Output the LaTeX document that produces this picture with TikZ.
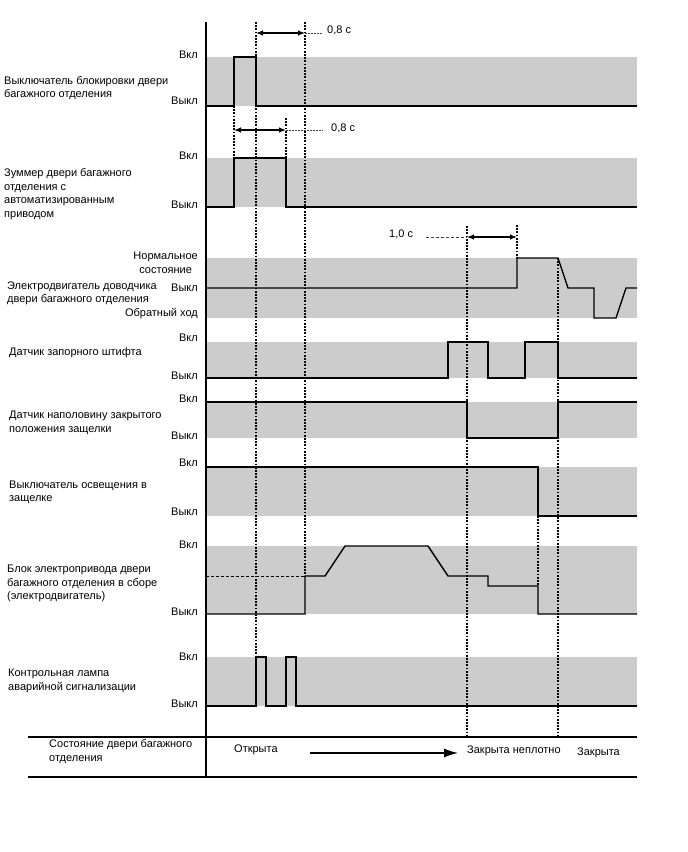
\documentclass[tikz,border=0pt]{standalone}
\usepackage{fontspec}
\setmainfont{Liberation Sans}
\usetikzlibrary{arrows.meta}
\definecolor{bandgray}{HTML}{CCCCCC}
\begin{document}
\begin{tikzpicture}[x=1pt,y=-1pt,
  band/.style={fill=bandgray,draw=none},
  sig/.style={line width=1.4pt,line join=miter},
  guide/.style={line width=1.3pt,dash pattern=on 1.8pt off 1.4pt},
  lead/.style={line width=0.8pt,dash pattern=on 1.5pt off 1.5pt,black!75},
  dimarrow/.style={line width=1.2pt,{Latex[length=7pt,width=5.5pt]}-{Latex[length=7pt,width=5.5pt]}},
  lvl/.style={anchor=east,inner sep=0pt,font=\fontsize{11}{13}\selectfont},
  rowname/.style={anchor=west,inner sep=0pt,align=left,font=\fontsize{11}{13.5}\selectfont},
  txt/.style={anchor=west,inner sep=0pt,font=\fontsize{11}{13}\selectfont},
]
\useasboundingbox (0,0) rectangle (688,852);

% bands
\foreach \a/\b in {57/106,158/207,258/318,342/378,402/438,467/516,546/614,657/706}
  \fill[bandgray] (206,\a) rectangle (637,\b);

% guide lines
\draw[guide] (256,22) -- (256,657);
\draw[guide] (305,22) -- (305,576);
\draw[guide] (234,106) -- (234,158);
\draw[guide] (286,118) -- (286,158);
\draw[guide] (467,226) -- (467,737);
\draw[guide] (517,225) -- (517,258);
\draw[guide] (558,258) -- (558,737);
\draw[guide] (538,516) -- (538,586);

% time dimensions
\coordinate (d1a) at (256,33); \coordinate (d1b) at (305,33);
\coordinate (d2a) at (234,130); \coordinate (d2b) at (286,130);
\coordinate (d3a) at (467,237); \coordinate (d3b) at (517,237);
\node[txt] (t1) at (327,30) {0,8 с};
\node[txt] (t2) at (331,128) {0,8 с};
\node[txt] (t3) at (389,234) {1,0 с};
\draw[dimarrow] (d1a) -- (d1b);
\draw[dimarrow] (d2a) -- (d2b);
\draw[dimarrow] (d3a) -- (d3b);
\draw[lead] (d1b) -- ([xshift=-5pt]t1.west |- d1b);
\draw[lead] (d2b) -- ([xshift=-8pt]t2.west |- d2b);
\draw[lead,dash pattern=on 3pt off 2pt] (426,237) -- (d3a);

% row 7 dashed reference
\draw[line width=0.8pt,dash pattern=on 3pt off 2pt] (206,576) -- (305,576);

% signals
\draw[sig] (206,106) -- (234,106) -- (234,57) -- (256,57) -- (256,106) -- (637,106);
\draw[sig] (206,207) -- (234,207) -- (234,158) -- (286,158) -- (286,207) -- (637,207);
\draw[sig] (206,288) -- (517,288) -- (517,258) -- (558,258) -- (568,288) -- (594,288) -- (594,318) -- (616,318) -- (626,288) -- (637,288);
\draw[sig] (206,378) -- (448,378) -- (448,342) -- (488,342) -- (488,378) -- (525,378) -- (525,342) -- (558,342) -- (558,378) -- (637,378);
\draw[sig] (206,402) -- (467,402) -- (467,438) -- (558,438) -- (558,402) -- (637,402);
\draw[sig] (206,467) -- (538,467) -- (538,516) -- (637,516);
\draw[sig] (206,614) -- (305,614) -- (305,576) -- (325,576) -- (345,546) -- (428,546) -- (448,576) -- (488,576) -- (488,586) -- (538,586) -- (538,614) -- (637,614);
\draw[sig] (206,706) -- (256,706) -- (256,657) -- (266,657) -- (266,706) -- (286,706) -- (286,657) -- (296,657) -- (296,706) -- (637,706);

% axis and status row
\draw[line width=1.8pt] (206,22) -- (206,777);
\draw[line width=1.2pt] (28,737) -- (637,737);
\draw[line width=1.2pt] (28,777) -- (637,777);

% row names
\node[rowname] (n1) at (4,88) {Выключатель блокировки двери\\багажного отделения};
\node[rowname] (n2) at (4,194) {Зуммер двери багажного\\отделения с\\автоматизированным\\приводом};
\node[rowname] (n3) at (7,293.5) {Электродвигатель доводчика\\двери багажного отделения};
\node[rowname] (n4) at (9,353) {Датчик запорного штифта};
\node[rowname] (n5) at (9,423) {Датчик наполовину закрытого\\положения защелки};
\node[rowname] (n6) at (9,492.5) {Выключатель освещения в\\защелке};
\node[rowname] (n7) at (7,583.5) {Блок электропривода двери\\багажного отделения в сборе\\(электродвигатель)};
\node[rowname] (n8) at (8,681) {Контрольная лампа\\аварийной сигнализации};
\node[rowname] (n9) at (49,751.5) {Состояние двери багажного\\отделения};

% levels
\node[lvl] (v1a) at (198,55) {Вкл};   \node[lvl] (v1b) at (198,101) {Выкл};
\node[lvl] (v2a) at (198,156) {Вкл};  \node[lvl] (v2b) at (198,205) {Выкл};
\node[lvl,align=center,font=\fontsize{11}{13.5}\selectfont] (v3a) at (198,263) {Нормальное\\состояние};
\node[lvl] (v3b) at (198,288) {Выкл};
\node[lvl] (v3c) at (198,314) {Обратный ход};
\node[lvl] (v4a) at (198,338) {Вкл};  \node[lvl] (v4b) at (198,376) {Выкл};
\node[lvl] (v5a) at (198,399) {Вкл};  \node[lvl] (v5b) at (198,436) {Выкл};
\node[lvl] (v6a) at (198,463) {Вкл};  \node[lvl] (v6b) at (198,512) {Выкл};
\node[lvl] (v7a) at (198,545) {Вкл};  \node[lvl] (v7b) at (198,612) {Выкл};
\node[lvl] (v8a) at (198,657) {Вкл};  \node[lvl] (v8b) at (198,704) {Выкл};

% door states
\node[txt] (s1) at (234,750) {Открыта};
\node[txt] (s2) at (467,751) {Закрыта неплотно};
\node[txt] (s3) at (577,753) {Закрыта};
\coordinate (arrS) at (310,753);
\coordinate (arrE) at (458,753);
\draw[line width=1.2pt,-{Latex[length=14pt,width=9pt]}] (arrS) -- (arrE);
\end{tikzpicture}
\end{document}
